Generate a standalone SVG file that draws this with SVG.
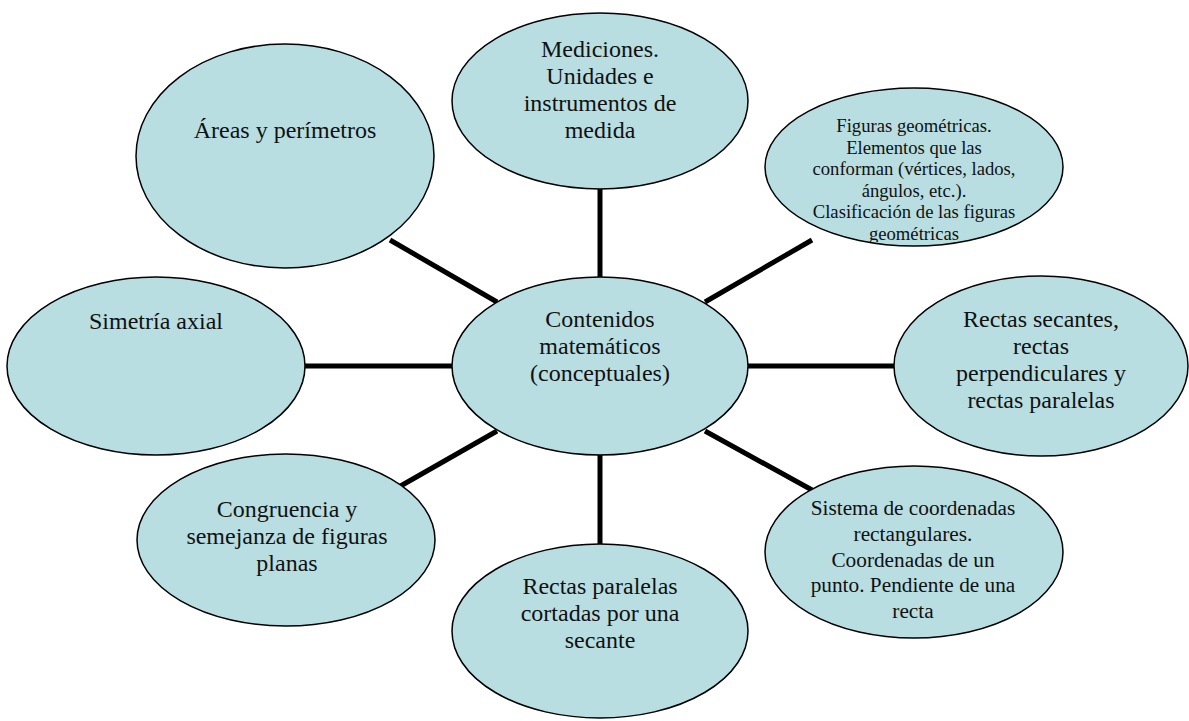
<svg xmlns="http://www.w3.org/2000/svg" width="1189" height="721" viewBox="0 0 1189 721">
<style>
.n{fill:#B8DEE2;stroke:#000;stroke-width:1.5}
.c{stroke:#000;stroke-width:5;fill:none}
.t{font-family:'Liberation Serif','Times New Roman',Tinos,'DejaVu Serif',serif;fill:#111;text-anchor:middle}
.L{font-size:24px}
.M{font-size:21.3px}
.S{font-size:18.67px}
</style>
<defs>
<clipPath id="clipFig"><rect x="760" y="80" width="310" height="162"/></clipPath>
</defs>
<rect width="1189" height="721" fill="#fff"/>
<g id="connectors">
<line class="c" x1="600" y1="185" x2="600" y2="280"/>
<line class="c" x1="600" y1="452" x2="600" y2="547"/>
<line class="c" x1="302" y1="366" x2="455" y2="366"/>
<line class="c" x1="745" y1="366" x2="898" y2="366"/>
<line class="c" x1="390" y1="240" x2="497" y2="302"/>
<line class="c" x1="705" y1="302" x2="812" y2="240"/>
<line class="c" x1="390" y1="492" x2="497" y2="431"/>
<line class="c" x1="705" y1="431" x2="812" y2="490"/>
</g>
<g id="node-centro" class="t" font-family="Liberation Serif, serif">
<ellipse class="n" cx="600" cy="366" rx="148" ry="89"/>
<text class="t L" x="600" y="327">Contenidos</text>
<text class="t L" x="600" y="354">matemáticos</text>
<text class="t L" x="600" y="381">(conceptuales)</text>
</g>
<g id="node-mediciones" class="t">
<ellipse class="n" cx="600" cy="101" rx="148" ry="88"/>
<text class="t L" x="600" y="57">Mediciones.</text>
<text class="t L" x="600" y="84">Unidades e</text>
<text class="t L" x="600" y="111">instrumentos de</text>
<text class="t L" x="600" y="138">medida</text>
</g>
<g id="node-areas" class="t">
<ellipse class="n" cx="285" cy="156" rx="149" ry="112"/>
<text class="t L" x="285" y="138">Áreas y perímetros</text>
</g>
<g id="node-figuras" class="t">
<ellipse class="n" cx="914" cy="167" rx="149" ry="79"/>
<g clip-path="url(#clipFig)">
<text class="t S" x="914" y="132">Figuras geométricas.</text>
<text class="t S" x="914" y="153.5">Elementos que las</text>
<text class="t S" x="914" y="175">conforman (vértices, lados,</text>
<text class="t S" x="914" y="196.5">ángulos, etc.).</text>
<text class="t S" x="914" y="218">Clasificación de las figuras</text>
<text class="t S" x="914" y="239.5">geométricas</text>
</g>
</g>
<g id="node-simetria" class="t">
<ellipse class="n" cx="156" cy="366" rx="149" ry="89"/>
<text class="t L" x="156" y="329">Simetría axial</text>
</g>
<g id="node-secantes" class="t">
<ellipse class="n" cx="1041" cy="366" rx="147" ry="90"/>
<text class="t L" x="1041" y="327">Rectas secantes,</text>
<text class="t L" x="1041" y="354">rectas</text>
<text class="t L" x="1041" y="381">perpendiculares y</text>
<text class="t L" x="1041" y="408">rectas paralelas</text>
</g>
<g id="node-congruencia" class="t">
<ellipse class="n" cx="286" cy="540" rx="149" ry="86"/>
<text class="t L" x="287" y="517">Congruencia y</text>
<text class="t L" x="287" y="544">semejanza de figuras</text>
<text class="t L" x="287" y="571">planas</text>
</g>
<g id="node-paralelas" class="t">
<ellipse class="n" cx="600" cy="631" rx="148" ry="87"/>
<text class="t L" x="600" y="594">Rectas paralelas</text>
<text class="t L" x="600" y="621">cortadas por una</text>
<text class="t L" x="600" y="648">secante</text>
</g>
<g id="node-sistema" class="t">
<ellipse class="n" cx="914" cy="552" rx="149" ry="86"/>
<text class="t M" x="913" y="515">Sistema de coordenadas</text>
<text class="t M" x="913" y="541">rectangulares.</text>
<text class="t M" x="913" y="567">Coordenadas de un</text>
<text class="t M" x="913" y="592">punto. Pendiente de una</text>
<text class="t M" x="913" y="618">recta</text>
</g>
</svg>
